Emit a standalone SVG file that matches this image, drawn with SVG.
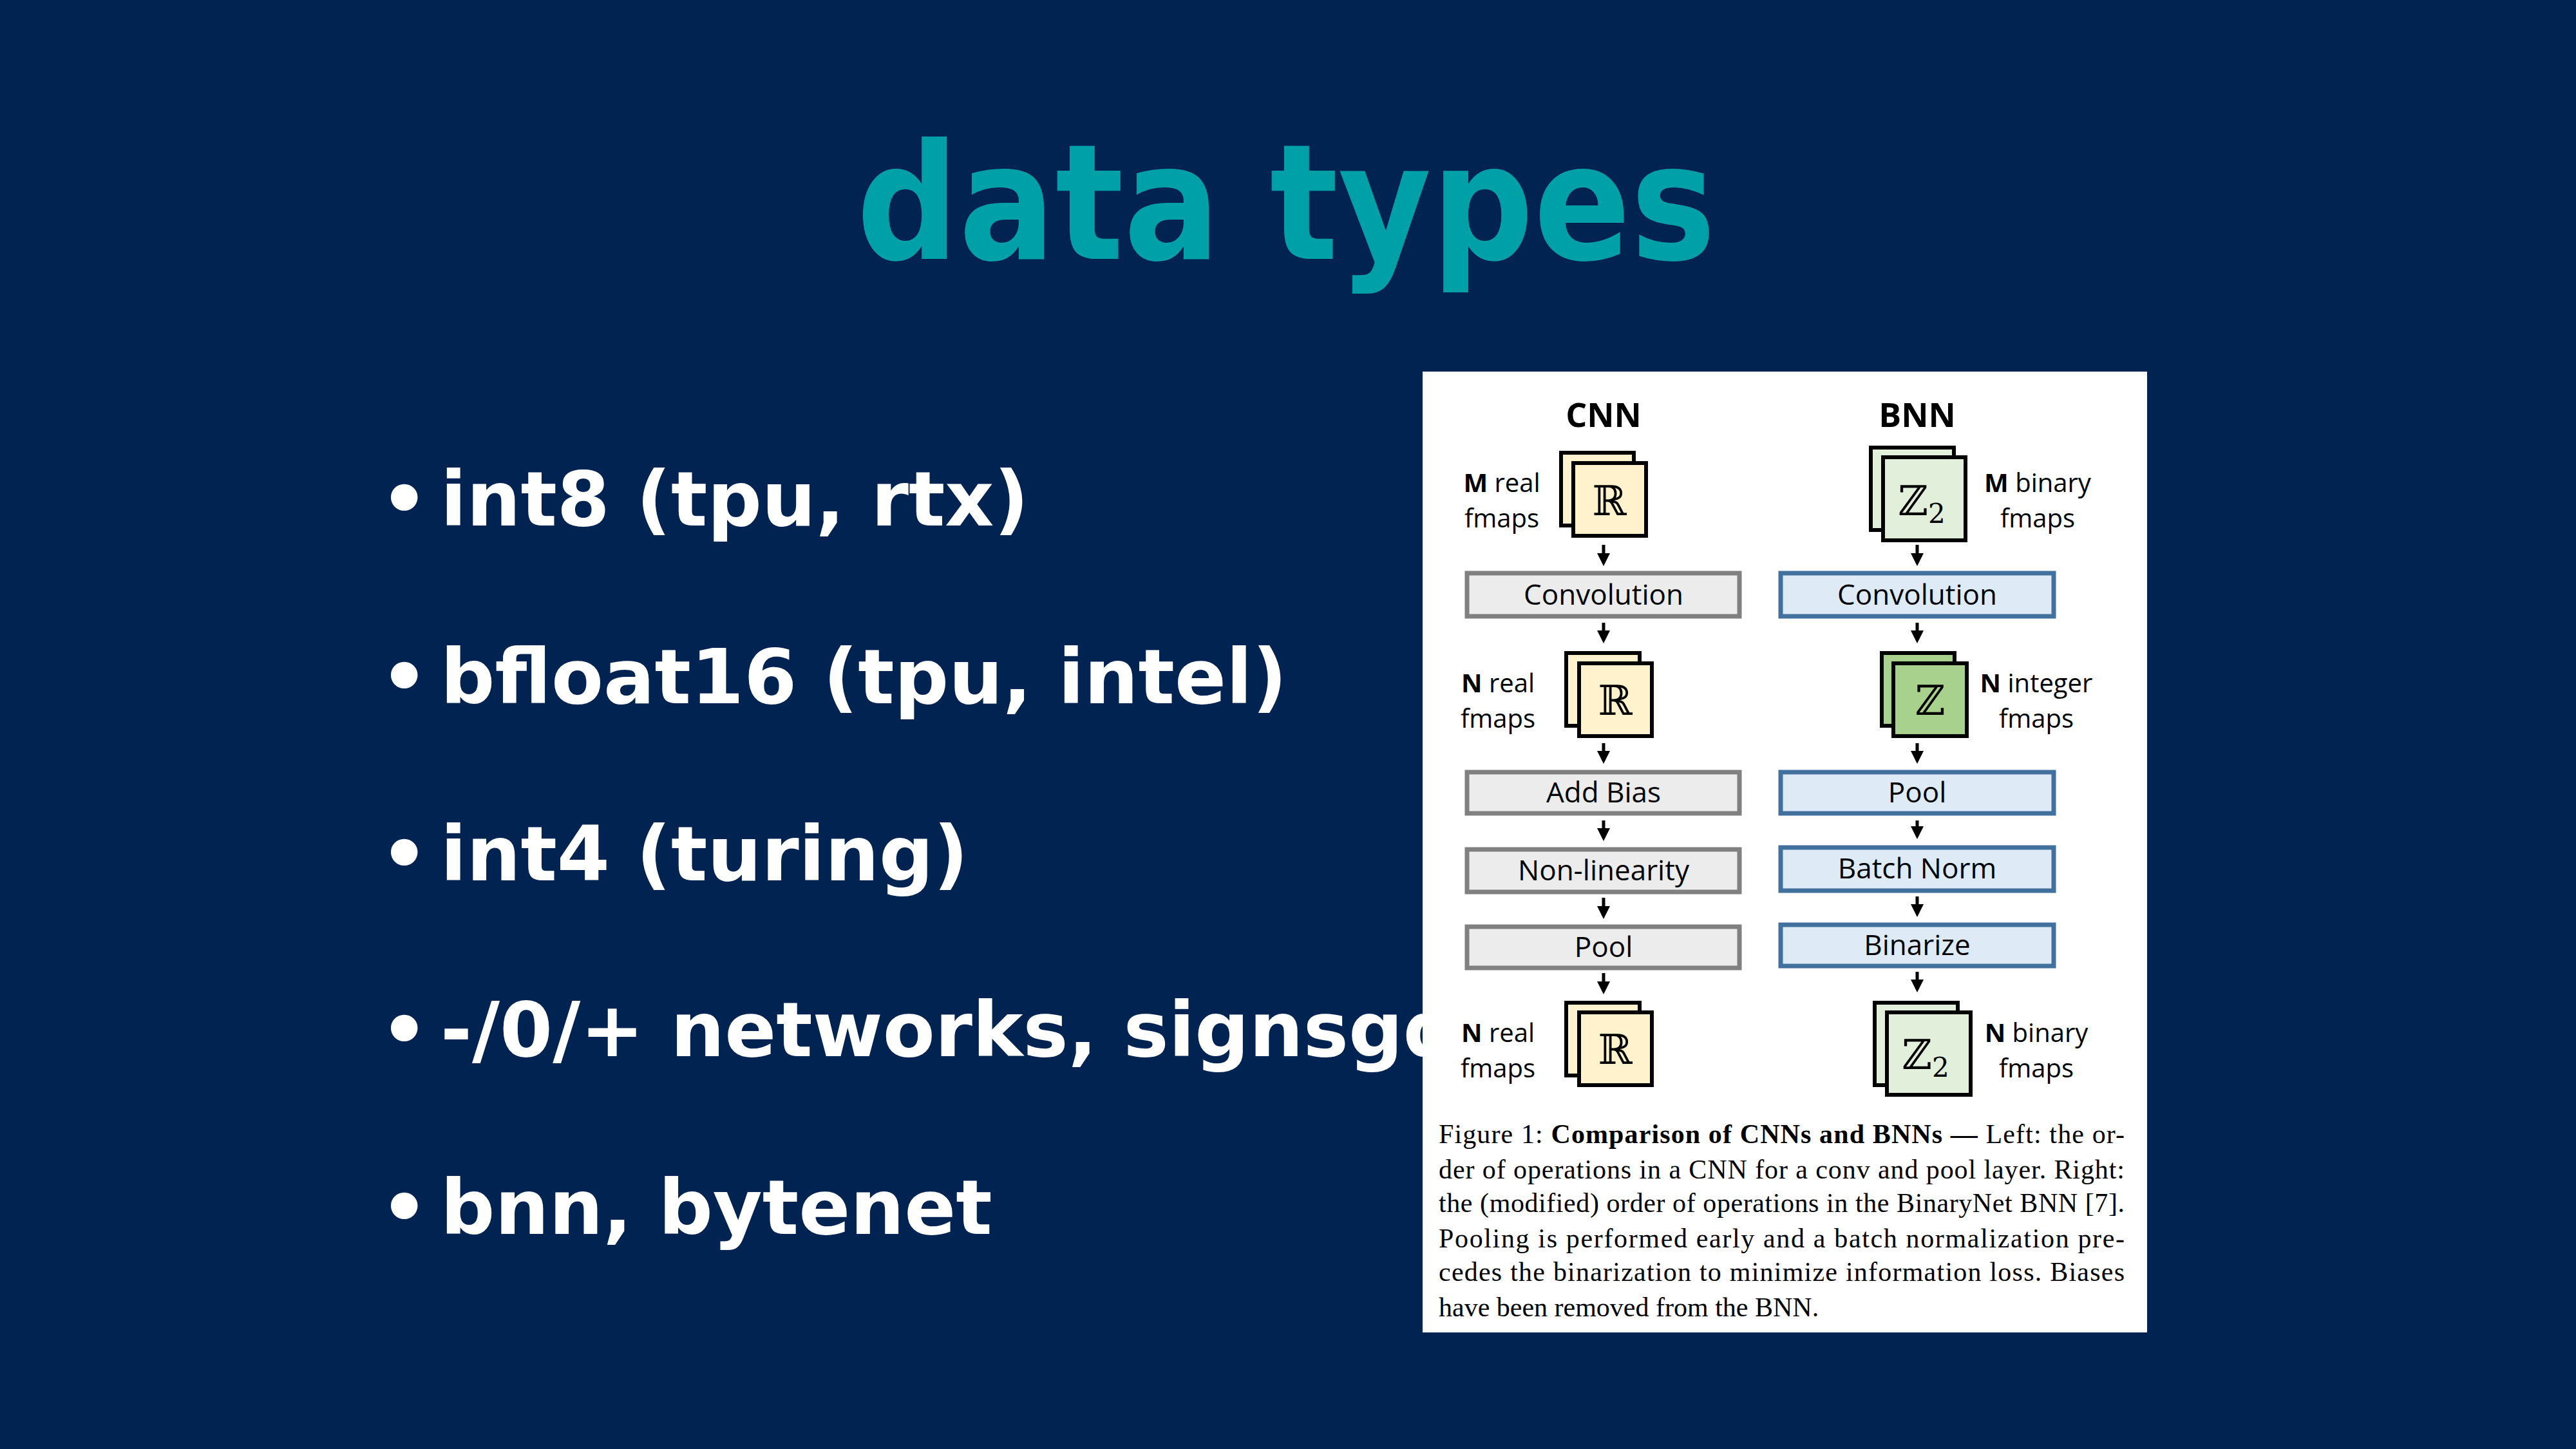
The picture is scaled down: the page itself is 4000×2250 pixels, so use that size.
<svg xmlns="http://www.w3.org/2000/svg" width="4000" height="2250" viewBox="0 0 4000 2250">
<style>
.bul{font-family:"DejaVu Sans",sans-serif;font-weight:bold;font-size:118px;fill:#fff}
.hd{font-family:"Open Sans",sans-serif;font-weight:bold;font-size:52px;fill:#000;text-anchor:middle}
.gb{fill:#ececec;stroke:#808080;stroke-width:7}
.bb{fill:#deebf7;stroke:#41719c;stroke-width:7}
.bt{font-family:"Open Sans",sans-serif;font-size:44px;fill:#000;text-anchor:middle}
.lb{font-family:"Open Sans",sans-serif;font-size:40px;fill:#000;text-anchor:middle}
.y{fill:#fff2cc;stroke:#000;stroke-width:6}
.lg{fill:#e2efda;stroke:#000;stroke-width:6}
.dg{fill:#a9d18e;stroke:#000;stroke-width:6}
.sym{font-family:"DejaVu Serif",serif;font-size:64px;fill:#000;text-anchor:middle}
.cap{font-family:"Liberation Serif",serif;font-size:42px;fill:#000}
.ar{stroke:#000;stroke-width:5;fill:none}
</style>
<defs><marker id="ah" markerWidth="4" markerHeight="4" refX="3" refY="2" orient="auto"><path d="M0,0L4,2L0,4z" fill="#000"/></marker></defs>
<rect width="4000" height="2250" fill="#002351"/>
<text x="1997" y="402" text-anchor="middle" font-family="DejaVu Sans,sans-serif" font-weight="bold" font-size="250" fill="#00a0a8" textLength="1334" lengthAdjust="spacingAndGlyphs">data types</text>
<g id="bullets">
<text class="bul" x="590" y="816">•</text><text class="bul" x="684" y="816">int8 (tpu, rtx)</text>
<text class="bul" x="590" y="1092">•</text><text class="bul" x="684" y="1092">bfloat16 (tpu, intel)</text>
<text class="bul" x="590" y="1367">•</text><text class="bul" x="684" y="1367">int4 (turing)</text>
<text class="bul" x="590" y="1640">•</text><text class="bul" x="684" y="1640">-/0/+ networks, signsgd</text>
<text class="bul" x="590" y="1916">•</text><text class="bul" x="684" y="1916">bnn, bytenet</text>
</g>
<rect x="2209" y="577" width="1125" height="1492" fill="#fff"/>
<text class="hd" x="2490" y="663">CNN</text>
<text class="hd" x="2977" y="663">BNN</text>
<g id="cnn-in"><rect class="y" x="2424" y="703" width="113" height="113"/><rect class="y" x="2443" y="719" width="113" height="113"/><text class="sym" x="2499" y="800">ℝ</text>
<text class="lb" x="2332" y="764"><tspan font-weight="bold">M</tspan> real</text><text class="lb" x="2332" y="819">fmaps</text></g>
<g id="bnn-in"><rect class="lg" x="2905" y="695" width="129" height="128"/><rect class="lg" x="2924" y="710" width="128" height="129"/><text class="sym" x="2984" y="800">ℤ<tspan font-size="42" dy="12">2</tspan></text>
<text class="lb" x="3164" y="764"><tspan font-weight="bold">M</tspan> binary</text><text class="lb" x="3164" y="819">fmaps</text></g>
<g id="cnn-conv"><rect class="gb" x="2278" y="890" width="423" height="67"/><text class="bt" x="2490" y="939">Convolution</text></g>
<g id="bnn-conv"><rect class="bb" x="2765" y="890" width="424" height="67"/><text class="bt" x="2977" y="939">Convolution</text></g>
<g id="cnn-mid"><rect class="y" x="2432" y="1014" width="114" height="113"/><rect class="y" x="2452" y="1030" width="113" height="113"/><text class="sym" x="2508" y="1110">ℝ</text>
<text class="lb" x="2326" y="1075"><tspan font-weight="bold">N</tspan> real</text><text class="lb" x="2326" y="1130">fmaps</text></g>
<g id="bnn-mid"><rect class="dg" x="2922" y="1014" width="113" height="113"/><rect class="dg" x="2940" y="1030" width="114" height="113"/><text class="sym" x="2997" y="1110">ℤ</text>
<text class="lb" x="3162" y="1075"><tspan font-weight="bold">N</tspan> integer</text><text class="lb" x="3162" y="1130">fmaps</text></g>
<g id="cnn-bias"><rect class="gb" x="2278" y="1199" width="423" height="64"/><text class="bt" x="2490" y="1246">Add Bias</text></g>
<g id="bnn-pool"><rect class="bb" x="2765" y="1199" width="424" height="64"/><text class="bt" x="2977" y="1246">Pool</text></g>
<g id="cnn-nl"><rect class="gb" x="2278" y="1319" width="423" height="66"/><text class="bt" x="2490" y="1367">Non-linearity</text></g>
<g id="bnn-bn"><rect class="bb" x="2765" y="1316" width="424" height="67"/><text class="bt" x="2977" y="1364">Batch Norm</text></g>
<g id="cnn-pool"><rect class="gb" x="2278" y="1439" width="423" height="64"/><text class="bt" x="2490" y="1486">Pool</text></g>
<g id="bnn-bin"><rect class="bb" x="2765" y="1436" width="424" height="64"/><text class="bt" x="2977" y="1483">Binarize</text></g>
<g id="cnn-out"><rect class="y" x="2432" y="1557" width="114" height="113"/><rect class="y" x="2452" y="1572" width="113" height="113"/><text class="sym" x="2508" y="1652">ℝ</text>
<text class="lb" x="2326" y="1618"><tspan font-weight="bold">N</tspan> real</text><text class="lb" x="2326" y="1673">fmaps</text></g>
<g id="bnn-out"><rect class="lg" x="2911" y="1557" width="129" height="128"/><rect class="lg" x="2930" y="1572" width="130" height="128"/><text class="sym" x="2990" y="1660">ℤ<tspan font-size="42" dy="12">2</tspan></text>
<text class="lb" x="3162" y="1618"><tspan font-weight="bold">N</tspan> binary</text><text class="lb" x="3162" y="1673">fmaps</text></g>
<g id="connectors" class="ar" marker-end="url(#ah)">
<path d="M2490,846V874"/><path d="M2490,967V994"/><path d="M2490,1154V1181"/><path d="M2490,1274V1301"/><path d="M2490,1394V1422"/><path d="M2490,1511V1539"/>
<path d="M2977,846V874"/><path d="M2977,967V994"/><path d="M2977,1154V1181"/><path d="M2977,1274V1298"/><path d="M2977,1392V1419"/><path d="M2977,1509V1536"/>
</g>
<g id="caption">
<text class="cap" x="2234" y="1775" textLength="1065" lengthAdjust="spacing">Figure 1: <tspan font-weight="bold">Comparison of CNNs and BNNs —</tspan> Left: the or-</text>
<text class="cap" x="2234" y="1830" textLength="1065" lengthAdjust="spacing">der of operations in a CNN for a conv and pool layer. Right:</text>
<text class="cap" x="2234" y="1882" textLength="1065" lengthAdjust="spacing">the (modified) order of operations in the BinaryNet BNN [7].</text>
<text class="cap" x="2234" y="1937" textLength="1065" lengthAdjust="spacing">Pooling is performed early and a batch normalization pre-</text>
<text class="cap" x="2234" y="1989" textLength="1065" lengthAdjust="spacing">cedes the binarization to minimize information loss. Biases</text>
<text class="cap" x="2234" y="2044">have been removed from the BNN.</text>
</g>
</svg>
